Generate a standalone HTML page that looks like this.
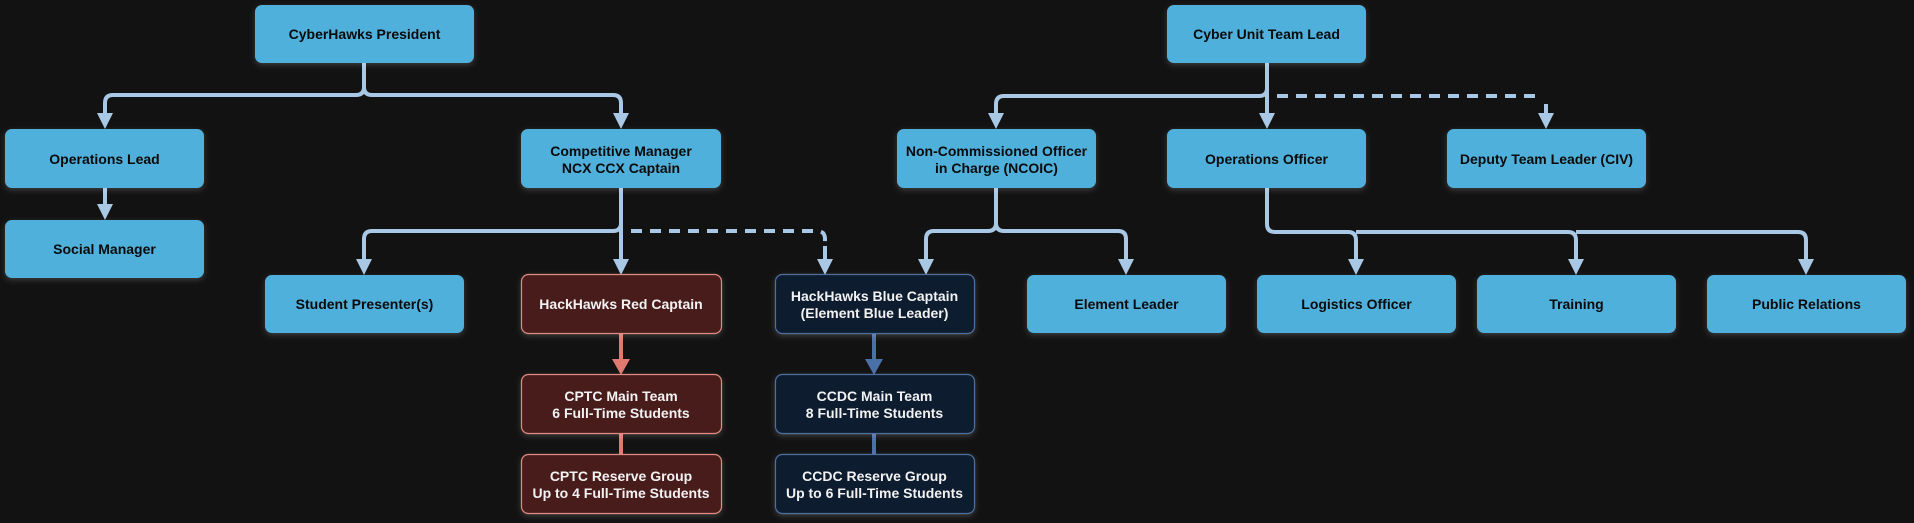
<!DOCTYPE html>
<html><head><meta charset="utf-8"><style>
html,body{margin:0;padding:0;background:#121212;width:1914px;height:523px;overflow:hidden}
svg{display:block}
text{font-family:"Liberation Sans",Arial,sans-serif;font-weight:bold;font-size:14px;text-anchor:middle}
</style></head><body>
<svg width="1914" height="523" viewBox="0 0 1914 523" xmlns="http://www.w3.org/2000/svg">
<defs>
<filter id="g" x="-20%" y="-30%" width="140%" height="160%">
<feDropShadow dx="0" dy="2" stdDeviation="3" flood-color="#ffffff" flood-opacity="0.18"/>
</filter>
</defs>
<g fill="none" stroke="#a9c8e6" stroke-width="4" stroke-linecap="butt">
<!-- President -->
<path d="M364 63 V87 Q364 95 356 95 H113 Q105 95 105 103 V114"/>
<path d="M364 63 V87 Q364 95 372 95 H613 Q621 95 621 103 V114"/>
<path d="M105 188 V205"/>
<!-- Comp manager -->
<path d="M621 188 V223 Q621 231 613 231 H372 Q364 231 364 239 V260"/>
<path d="M621 188 V260"/>
<path d="M631 231 H817 Q825 231 825 239 V246" stroke-dasharray="11 8"/>
<path d="M825 246 V260"/>
<!-- Cyber lead -->
<path d="M1267 63 V88 Q1267 96 1259 96 H1004 Q996 96 996 104 V114"/>
<path d="M1267 63 V114"/>
<path d="M1277 96 H1538" stroke-dasharray="11 8"/>
<path d="M1546 104 V114"/>
<!-- NCOIC -->
<path d="M996 188 V223 Q996 231 988 231 H934 Q926 231 926 239 V260"/>
<path d="M996 188 V223 Q996 231 1004 231 H1118 Q1126 231 1126 239 V260"/>
<!-- Ops officer -->
<path d="M1267 188 V224 Q1267 232 1275 232 H1348 Q1356 232 1356 240 V260"/>
<path d="M1356 232 H1568 Q1576 232 1576 240 V260"/>
<path d="M1576 232 H1798 Q1806 232 1806 240 V260"/>
</g>
<g stroke-width="4">
<path d="M621 333 V360" stroke="#e07a70"/>
<path d="M621 433 V454" stroke="#e07a70"/>
<path d="M874 333 V360" stroke="#4a70a8"/>
<path d="M874 433 V454" stroke="#4a70a8"/>
</g>
<g fill="#a9c8e6">
<polygon points="97,113 113,113 105,129"/>
<polygon points="613,113 629,113 621,129"/>
<polygon points="97,204 113,204 105,220"/>
<polygon points="356,259 372,259 364,275"/>
<polygon points="613,259 629,259 621,275"/>
<polygon points="817,259 833,259 825,275"/>
<polygon points="988,113 1004,113 996,129"/>
<polygon points="1259,113 1275,113 1267,129"/>
<polygon points="1538,113 1554,113 1546,129"/>
<polygon points="918,259 934,259 926,275"/>
<polygon points="1118,259 1134,259 1126,275"/>
<polygon points="1348,259 1364,259 1356,275"/>
<polygon points="1568,259 1584,259 1576,275"/>
<polygon points="1798,259 1814,259 1806,275"/>
</g>
<polygon points="612,359 630,359 621,375" fill="#e07a70"/>
<polygon points="865,359 883,359 874,375" fill="#4a70a8"/>

<g fill="#4fb0dc" filter="url(#g)">
<rect x="255" y="5" width="219" height="58" rx="7"/>
<rect x="5" y="129" width="199" height="59" rx="7"/>
<rect x="5" y="220" width="199" height="58" rx="7"/>
<rect x="521" y="129" width="200" height="59" rx="7"/>
<rect x="265" y="275" width="199" height="58" rx="7"/>
<rect x="1167" y="5" width="199" height="58" rx="7"/>
<rect x="897" y="129" width="199" height="59" rx="7"/>
<rect x="1167" y="129" width="199" height="59" rx="7"/>
<rect x="1447" y="129" width="199" height="59" rx="7"/>
<rect x="1027" y="275" width="199" height="58" rx="7"/>
<rect x="1257" y="275" width="199" height="58" rx="7"/>
<rect x="1477" y="275" width="199" height="58" rx="7"/>
<rect x="1707" y="275" width="199" height="58" rx="7"/>
</g>
<g fill="#4a1f1f" stroke="#e08a80" stroke-width="1.2" filter="url(#g)">
<rect x="521.5" y="274.5" width="200" height="59" rx="7"/>
<rect x="521.5" y="374.5" width="200" height="59" rx="7"/>
<rect x="521.5" y="454.5" width="200" height="59" rx="7"/>
</g>
<g fill="#0e1a2d" stroke="#4d6f9e" stroke-width="1.2" filter="url(#g)">
<rect x="775.5" y="274.5" width="199" height="59" rx="7"/>
<rect x="775.5" y="374.5" width="199" height="59" rx="7"/>
<rect x="775.5" y="454.5" width="199" height="59" rx="7"/>
</g>

<g fill="#0a0a0a">
<text x="364.5" y="39">CyberHawks President</text>
<text x="104.5" y="164">Operations Lead</text>
<text x="104.5" y="254">Social Manager</text>
<text x="621" y="156">Competitive Manager</text>
<text x="621" y="173">NCX CCX Captain</text>
<text x="364.5" y="309">Student Presenter(s)</text>
<text x="1266.5" y="39">Cyber Unit Team Lead</text>
<text x="996.5" y="156">Non-Commissioned Officer</text>
<text x="996.5" y="173">in Charge (NCOIC)</text>
<text x="1266.5" y="164">Operations Officer</text>
<text x="1546.5" y="164">Deputy Team Leader (CIV)</text>
<text x="1126.5" y="309">Element Leader</text>
<text x="1356.5" y="309">Logistics Officer</text>
<text x="1576.5" y="309">Training</text>
<text x="1806.5" y="309">Public Relations</text>
</g>
<g fill="#f2f2f2">
<text x="621" y="309">HackHawks Red Captain</text>
<text x="621" y="401">CPTC Main Team</text>
<text x="621" y="418">6 Full-Time Students</text>
<text x="621" y="481">CPTC Reserve Group</text>
<text x="621" y="498">Up to 4 Full-Time Students</text>
<text x="874.5" y="301">HackHawks Blue Captain</text>
<text x="874.5" y="318">(Element Blue Leader)</text>
<text x="874.5" y="401">CCDC Main Team</text>
<text x="874.5" y="418">8 Full-Time Students</text>
<text x="874.5" y="481">CCDC Reserve Group</text>
<text x="874.5" y="498">Up to 6 Full-Time Students</text>
</g>
</svg>
</body></html>
